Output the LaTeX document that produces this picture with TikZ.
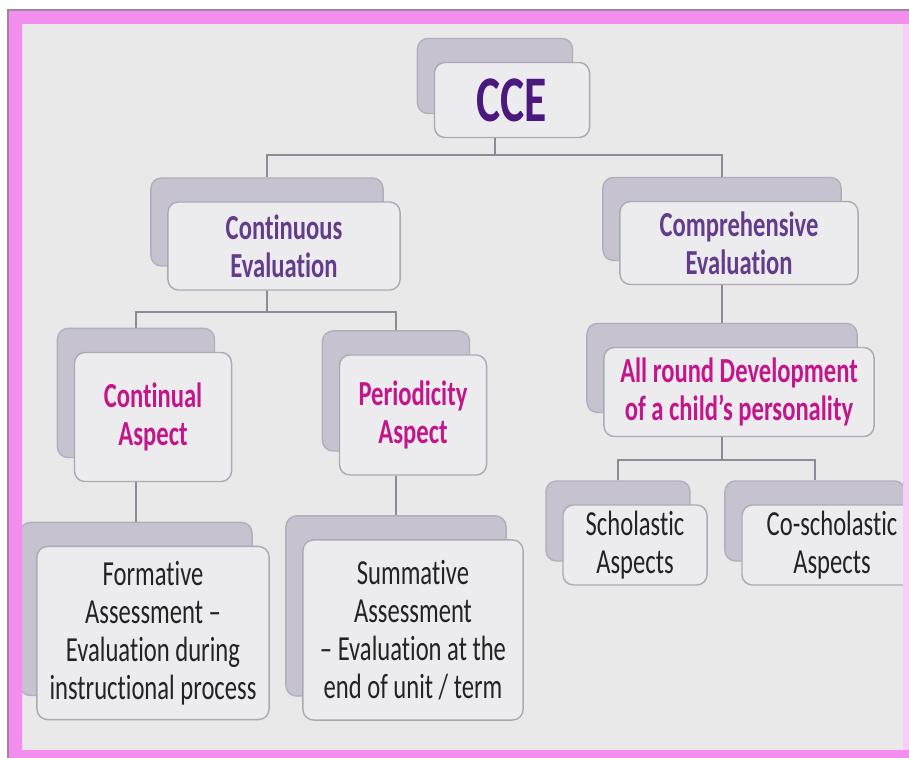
\documentclass[tikz,border=0pt]{standalone}
\usepackage{fontspec}
\setmainfont{Carlito}[FakeStretch=0.7,RawFeature={-liga;-clig;-calt;-dlig}]
\usetikzlibrary{shadows}
\definecolor{framepink}{RGB}{244,142,238}
\definecolor{framedark}{RGB}{160,130,165}
\definecolor{pagebg}{RGB}{233,233,233}
\definecolor{boxfill}{RGB}{236,236,238}
\definecolor{boxline}{RGB}{170,170,180}
\definecolor{backfill}{RGB}{198,194,208}
\definecolor{connline}{RGB}{140,140,152}
\definecolor{inkcce}{RGB}{75,25,125}
\definecolor{inkpurple}{RGB}{100,60,140}
\definecolor{inkpink}{RGB}{195,22,138}
\definecolor{inktext}{RGB}{35,35,35}

\begin{document}
\begin{tikzpicture}
[x=0.01cm,y=-0.01cm,
 box/.style={draw=boxline,fill=boxfill,rounded corners=3pt,inner sep=0pt,
   align=center,text=inktext,font=\fontsize{10}{10.8}\selectfont,
   copy shadow={shadow xshift=-0.17cm,shadow yshift=0.24cm,
     fill=backfill,draw=backfill!90!black}},
 purplebox/.style={box,text=inkpurple,font=\fontsize{10}{10.8}\selectfont\bfseries},
 pinkbox/.style={box,text=inkpink,font=\fontsize{10}{10.8}\selectfont\bfseries},
 bk/.style={xshift=-0.17cm,yshift=0.24cm},
 conn/.style={draw=connline,line width=0.5pt}]
\useasboundingbox (0,0) rectangle (909,758);
\fill[white] (0,0) rectangle (909,758);
\fill[pagebg] (22,24) rectangle (903,750);

% the boxes
\node[box,minimum width=1.55cm,minimum height=0.75cm,text=inkcce,
  font=\fontsize{18.5}{20}\selectfont\bfseries] (cce) at (512,100) {CCE};
\node[purplebox,minimum width=2.32cm,minimum height=0.88cm] (ce) at (284,246) {Continuous\\Evaluation};
\node[purplebox,minimum width=2.38cm,minimum height=0.83cm] (cv) at (739,243) {Comprehensive\\Evaluation};
\node[pinkbox,minimum width=1.57cm,minimum height=1.29cm] (ca) at (153,417) {Continual\\Aspect};
\node[pinkbox,minimum width=1.47cm,minimum height=1.20cm] (pa) at (413,415) {Periodicity\\Aspect};
\node[pinkbox,minimum width=2.70cm,minimum height=0.89cm] (ar) at (739,392) {All round Development\\of a child’s personality};
\node[box,minimum width=2.32cm,minimum height=1.73cm] (fa) at (153,633) {Formative\\Assessment –\\Evaluation during\\instructional process};
\node[box,minimum width=2.20cm,minimum height=1.80cm] (sa) at (413,630) {Summative\\Assessment\\– Evaluation at the\\end of unit / term};
\node[box,minimum width=1.44cm,minimum height=0.80cm] (sc) at (635,545) {Scholastic\\Aspects};
\node[box,minimum width=1.80cm,minimum height=0.80cm] (co) at (832,545) {Co-scholastic\\Aspects};

% the connectors
\coordinate (jA) at (495,155);
\coordinate (jB) at (267,312);
\coordinate (jC) at (722,460);
\draw[conn] ([xshift=-0.17cm]cce.south) -- (jA);
\draw[conn] ([bk]ce.north) |- (jA) -| ([bk]cv.north);
\draw[conn] ([xshift=-0.17cm]ce.south) -- (jB);
\draw[conn] ([bk]ca.north) |- (jB) -| ([bk]pa.north);
\draw[conn] ([xshift=-0.17cm]cv.south) -- ([bk]ar.north);
\draw[conn] ([xshift=-0.17cm]ar.south) -- (jC);
\draw[conn] ([bk]sc.north) |- (jC) -| ([bk]co.north);
\draw[conn] ([xshift=-0.17cm]ca.south) -- ([bk]fa.north);
\draw[conn] ([xshift=-0.17cm]pa.south) -- ([bk]sa.north);

% the frame
\fill[framepink,even odd rule] (8,10) rectangle (909,758) (22,24) rectangle (903,750);
\fill[framepink!45!white] (903,24) rectangle (909,750);
\draw[framedark,line width=0.6pt] (8,758) -- (8,10) -- (909,10);
\end{tikzpicture}
\end{document}
